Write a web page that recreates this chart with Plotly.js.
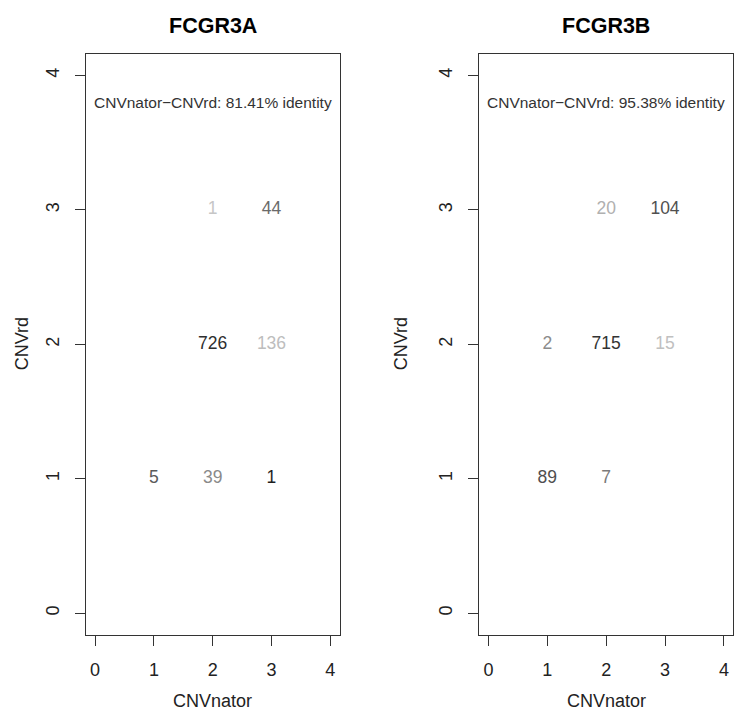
<!DOCTYPE html>
<html>
<head>
<meta charset="utf-8">
<script src="https://cdn.plot.ly/plotly-3.0.1.min.js"></script>
<style>
  body { margin: 0; background: #fff; }
  #chart { width: 734px; height: 721px; }
</style>
</head>
<body>
<div id="chart"></div>
<script>
// FCGR3A: CNVnator (x) vs CNVrd (y) counts
var aX = [2, 3, 2, 3, 1, 2, 3];
var aY = [3, 3, 2, 2, 1, 1, 1];
var aCounts = ['1', '44', '726', '136', '5', '39', '1'];
var aShades = ['#c6c6c6', '#6a6a6a', '#2e2e2e', '#bdbdbd', '#5a5a5a', '#8a8a8a', '#1e1e1e'];

// FCGR3B
var bX = [2, 3, 1, 2, 3, 1, 2];
var bY = [3, 3, 2, 2, 2, 1, 1];
var bCounts = ['20', '104', '2', '715', '15', '89', '7'];
var bShades = ['#b0b0b0', '#505050', '#8c8c8c', '#333333', '#c0c0c0', '#4f4f4f', '#7a7a7a'];

var panelTitles = ['FCGR3A', 'FCGR3B'];
var identityNotes = ['CNVnator\u2212CNVrd: 81.41% identity', 'CNVnator\u2212CNVrd: 95.38% identity'];
var tickVals = [0, 1, 2, 3, 4];

var FONT = '"Liberation Sans", Arial, Helvetica, sans-serif';

var data = [
  {
    x: aX, y: aY, text: aCounts, mode: 'text', type: 'scatter',
    textposition: 'middle center',
    textfont: { family: FONT, size: 17.5, color: aShades },
    xaxis: 'x', yaxis: 'y', hoverinfo: 'skip'
  },
  {
    x: bX, y: bY, text: bCounts, mode: 'text', type: 'scatter',
    textposition: 'middle center',
    textfont: { family: FONT, size: 17.5, color: bShades },
    xaxis: 'x2', yaxis: 'y2', hoverinfo: 'skip'
  }
];

function axisStyle(extra) {
  var ax = {
    range: [-0.16, 4.16],
    tickvals: tickVals,
    ticks: 'outside',
    ticklen: 10,
    tickwidth: 1,
    tickcolor: '#333',
    showline: true,
    mirror: true,
    linecolor: '#333',
    linewidth: 1,
    showgrid: false,
    zeroline: false,
    fixedrange: true,
    tickfont: { family: FONT, size: 18, color: '#222' }
  };
  for (var k in extra) ax[k] = extra[k];
  return ax;
}

var yDom = [1 - 634.7 / 721, 1 - 54 / 721];

var layout = {
  width: 734,
  height: 721,
  margin: { l: 0, r: 0, t: 0, b: 0 },
  paper_bgcolor: '#fff',
  plot_bgcolor: '#fff',
  showlegend: false,
  xaxis: axisStyle({ domain: [85.7 / 734, 339.7 / 734], anchor: 'y', ticklabelstandoff: 9 }),
  yaxis: axisStyle({ domain: yDom, anchor: 'x', tickangle: -90, ticklabelstandoff: 9 }),
  xaxis2: axisStyle({ domain: [479 / 734, 733.3 / 734], anchor: 'y2', ticklabelstandoff: 9 }),
  yaxis2: axisStyle({ domain: yDom, anchor: 'x2', tickangle: -90, ticklabelstandoff: 9 }),
  annotations: [
    // panel titles
    { text: '<b>' + panelTitles[0] + '</b>', xref: 'x', yref: 'paper', x: 2, y: 1 - 12 / 721,
      showarrow: false, font: { family: FONT, size: 21.5, color: '#000' } },
    { text: '<b>' + panelTitles[1] + '</b>', xref: 'x2', yref: 'paper', x: 2, y: 1 - 12 / 721,
      showarrow: false, font: { family: FONT, size: 21.5, color: '#000' } },
    // identity notes
    { text: identityNotes[0], xref: 'x', yref: 'y', x: 2, y: 3.8,
      showarrow: false, font: { family: FONT, size: 15.5, color: '#333' } },
    { text: identityNotes[1], xref: 'x2', yref: 'y2', x: 2, y: 3.8,
      showarrow: false, font: { family: FONT, size: 15.5, color: '#333' } },
    // axis titles
    { text: 'CNVnator', xref: 'x', yref: 'paper', x: 2, y: 1 - 713 / 721,
      showarrow: false, font: { family: FONT, size: 18, color: '#222' } },
    { text: 'CNVnator', xref: 'x2', yref: 'paper', x: 2, y: 1 - 713 / 721,
      showarrow: false, font: { family: FONT, size: 18, color: '#222' } },
    { text: 'CNVrd', xref: 'paper', yref: 'y', x: 10 / 734, y: 2, textangle: -90,
      showarrow: false, font: { family: FONT, size: 18, color: '#222' } },
    { text: 'CNVrd', xref: 'paper', yref: 'y2', x: 401 / 734, y: 2, textangle: -90,
      showarrow: false, font: { family: FONT, size: 18, color: '#222' } }
  ]
};

Plotly.newPlot('chart', data, layout, { staticPlot: true, displayModeBar: false });
</script>
</body>
</html>
